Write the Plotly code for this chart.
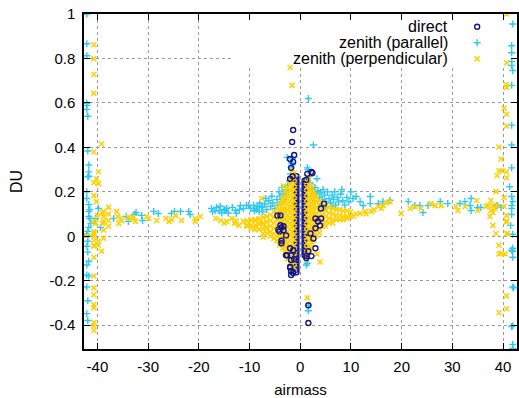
import plotly.graph_objects as go

# ---------------- data (airmass, DU) ----------------
direct_pts = [
    (-1.4, 0.478), (-1.6, 0.424), (-1.2, 0.366), (-2.0, 0.348), (-1.4, 0.335), (-1.8, 0.308),
    (-2.0, 0.259), (-1.5, 0.27), (1.4, 0.281), (2.2, 0.290), (1.2, 0.254), (2.4, 0.285),
    (-3.7, 0.04), (-3.3, 0.027), (-4.1, 0.022), (-3.7, -0.02), (-2.0, -0.054), (-1.4, -0.063),
    (-2.8, -0.085), (-1.8, -0.085), (-1.2, -0.103), (-2.0, -0.14), (-1.8, -0.156), (-1.8, -0.174),
    (-4.5, 0.094), (-3.9, 0.05), (-3.7, -0.031), (-2.6, -0.085), (-1.8, -0.107), (-2.0, -0.138),
    (-1.4, -0.165), (-3.9, 0.094), (-3.3, 0.045), (-4.3, 0.03), (-2.8, 0.004),
    (1.2, -0.098), (2.2, -0.089), (1.6, -0.31), (1.6, -0.39), (4.1, 0.125), (4.7, 0.147),
    (3.0, 0.08), (3.5, 0.067), (2.6, -0.01), (3.0, -0.054), (1.6, -0.067), (1.2, -0.089),
    (4.1, 0.08), (3.9, 0.049), (3.0, 0.036), (2.0, 0.013),
]
# the two dense dark columns at the inner edges of the fans
direct_left_col_x = -0.75
direct_left_col_y = [0.27, 0.256, 0.243, 0.229, 0.214, 0.2, 0.187, 0.172, 0.158, 0.145, 0.13, 0.116,
                     0.103, 0.088, 0.074, 0.06, 0.046, 0.032, 0.018, 0.004, -0.01, -0.024, -0.038,
                     -0.052, -0.066, -0.08, -0.094, -0.108, -0.122, -0.136, -0.15, -0.162]
direct_right_col_x = 0.85
direct_right_col_y = [0.25, 0.236, 0.222, 0.208, 0.194, 0.18, 0.166, 0.152, 0.138, 0.124, 0.11,
                      0.096, 0.082, 0.068, 0.054, 0.04, 0.026, 0.012, -0.002, -0.016, -0.03,
                      -0.044, -0.058, -0.072, -0.085]

parallel_pts = [
    # left edge
    (-42.1, 1.0), (-42.1, 0.866), (-42.1, 0.812), (-42.1, 0.598), (-42.1, 0.589), (-42.1, 0.571),
    (-41.9, 0.54), (-41.9, 0.384), (-41.7, 0.321), (-41.7, 0.29), (-41.9, 0.268), (-42.1, 0.2),
    (-42.1, 0.17), (-41.7, 0.143), (-41.5, 0.12), (-41.7, 0.089), (-41.5, 0.08), (-41.3, 0.058),
    (-41.7, 0.04), (-42.1, 0.009), (-41.9, 0.0), (-41.9, -0.022), (-42.1, -0.045), (-41.9, -0.071),
    (-41.7, -0.112), (-42.1, -0.129), (-42.1, -0.174), (-41.7, -0.179), (-42.1, -0.228),
    (-41.9, -0.29), (-42.1, -0.348), (-41.9, -0.379), (-41.7, 0.27), (-41.9, 0.022), (-41.7, 0.112),
    # left band
    (-40.4, 0.08), (-39.8, 0.125), (-39.4, 0.04), (-36.8, 0.08), (-34.3, 0.089), (-33.9, 0.067),
    (-32.7, 0.098), (-32.4, 0.107), (-31.3, 0.094), (-31.1, 0.071), (-28.9, 0.112), (-28.0, 0.103),
    (-25.4, 0.103), (-24.8, 0.112), (-23.6, 0.112), (-22.0, 0.112), (-21.7, 0.098),
    (-17.5, 0.125), (-17.3, 0.11), (-16.5, 0.13), (-16.0, 0.115), (-15.5, 0.105), (-14.8, 0.116),
    (-14.5, 0.125), (-14.2, 0.105), (-12.8, 0.116), (-12.6, 0.103), (-11.8, 0.138), (-10.2, 0.138),
    (-9.1, 0.125), (-8.1, 0.112), (-7.5, 0.134),
    # left central cloud
    (-9.8, 0.125), (-9.2, 0.14), (-8.6, 0.12), (-8.0, 0.15), (-7.6, 0.13), (-7.0, 0.145),
    (-6.6, 0.12), (-6.2, 0.16), (-5.8, 0.135), (-5.4, 0.15), (-5.0, 0.125), (-4.6, 0.165),
    (-4.4, 0.14), (-4.0, 0.18), (-3.8, 0.155), (-3.4, 0.19), (-3.2, 0.165), (-2.9, 0.21),
    (-2.7, 0.185), (-2.5, 0.23), (-2.3, 0.205), (-2.1, 0.25), (-1.9, 0.28), (-1.8, 0.31),
    (-1.7, 0.33), (-1.5, 0.35), (-2.6, 0.355), (-1.6, 0.32), (-6.8, 0.17), (-5.6, 0.18),
    (-4.2, 0.2), (-3.6, 0.22), (-7.4, 0.11), (-8.4, 0.135), (-9.0, 0.115), (-10.6, 0.14),
    (-11.2, 0.125), (-12.0, 0.12), (-13.4, 0.13), (-15.0, 0.12), (-15.8, 0.135), (-16.8, 0.115),
    (-1.4, -0.067), (-1.4, -0.09), (-1.2, -0.138), (-1.8, -0.161),
    # right central cloud and outliers
    (1.6, 0.62), (2.6, 0.411), (1.4, 0.308), (3.3, 0.259), (1.2, -0.129), (1.6, -0.31),
    (1.6, -0.335), (1.4, -0.121),
    (1.5, 0.3), (1.8, 0.27), (2.0, 0.24), (2.3, 0.215), (2.6, 0.2), (2.9, 0.22), (3.2, 0.19),
    (3.5, 0.205), (3.8, 0.175), (4.1, 0.195), (4.4, 0.165), (4.8, 0.185), (5.1, 0.155),
    (5.4, 0.2), (5.7, 0.17), (6.0, 0.15), (6.3, 0.185), (6.6, 0.165), (7.0, 0.14), (7.3, 0.175),
    (7.6, 0.155), (8.0, 0.19), (8.4, 0.16), (8.8, 0.14), (9.2, 0.175), (9.6, 0.155), (10.0, 0.2),
    (10.4, 0.17), (3.0, 0.16), (4.0, 0.145), (5.0, 0.13), (6.2, 0.135), (2.2, 0.18), (1.6, 0.23),
    (4.5, 0.21), (6.8, 0.2), (8.2, 0.21),
    # right band
    (11.0, 0.179), (11.8, 0.156), (12.4, 0.138), (13.8, 0.179), (13.8, 0.147), (15.4, 0.147),
    (16.3, 0.156), (17.7, 0.161), (21.3, 0.156), (22.6, 0.138), (24.2, 0.107), (23.6, 0.138),
    (25.2, 0.138), (27.6, 0.156), (29.1, 0.147), (31.5, 0.147), (32.5, 0.156), (33.5, 0.138),
    (33.7, 0.170), (33.7, 0.116), (35.0, 0.13), (35.6, 0.13), (38.8, 0.138), (39.6, 0.13),
    # right edge
    (41.9, 0.955), (41.7, 0.857), (41.7, 0.826), (41.7, 0.786), (41.7, 0.768), (41.9, 0.746),
    (41.7, 0.679), (41.7, 0.5), (41.7, 0.411), (41.7, 0.308), (41.3, 0.223), (41.7, 0.179),
    (41.9, 0.156), (41.7, 0.138), (41.7, 0.125), (41.7, 0.098), (41.5, 0.049), (41.9, 0.009),
    (41.7, -0.063), (41.9, -0.094), (41.9, -0.054), (41.9, -0.067), (41.9, -0.228),
    (41.7, -0.406), (41.9, -0.487), (42.1, -0.232), (41.9, -0.402), (41.9, -0.504),
]

perp_pts = [
    # left edge
    (-40.7, 0.862), (-40.7, 0.799), (-40.7, 0.728), (-40.7, 0.643), (-39.2, 0.415),
    (-40.7, 0.379), (-39.8, 0.29), (-40.2, 0.259), (-39.8, 0.237), (-40.7, 0.241),
    (-40.7, 0.183), (-40.2, 0.156), (-40.7, 0.067), (-40.4, 0.058), (-40.0, 0.094),
    (-39.0, 0.103), (-39.0, 0.058), (-38.8, 0.027), (-38.8, -0.009), (-42.1, 0.004),
    (-40.7, 0.022), (-40.7, 0.0), (-40.7, -0.018), (-40.7, -0.04), (-39.8, -0.022),
    (-39.8, -0.04), (-39.2, -0.067), (-40.7, -0.094), (-40.7, -0.179), (-40.7, -0.232),
    (-40.7, -0.263), (-40.7, -0.308), (-40.7, -0.321), (-40.7, -0.388), (-40.7, -0.402),
    (-40.7, -0.424), (-40.7, 0.013), (-40.7, -0.045),
    # left band
    (-38.8, 0.112), (-37.8, 0.13), (-38.8, 0.089), (-37.8, 0.10), (-37.8, 0.071), (-37.8, 0.045),
    (-38.8, 0.067), (-36.2, 0.112), (-36.0, 0.089), (-35.5, 0.08), (-35.8, 0.058), (-35.2, 0.071),
    (-33.9, 0.085), (-33.5, 0.08), (-32.9, 0.085), (-32.5, 0.067), (-30.3, 0.089), (-29.9, 0.08),
    (-28.3, 0.071), (-26.5, 0.08), (-25.9, 0.067), (-25.4, 0.075), (-24.6, 0.094),
    (-23.4, 0.071), (-20.7, 0.08), (-20.7, 0.067), (-19.7, 0.089), (-16.7, 0.08), (-15.7, 0.071),
    (-15.0, 0.06), (-14.5, 0.067), (-13.5, 0.08), (-13.0, 0.058), (-12.1, 0.049), (-12.6, 0.07),
    (-11.2, 0.067), (-10.6, 0.049), (-10.1, 0.06), (-8.8, 0.071), (-8.7, 0.045), (-7.8, 0.06),
    (-6.8, 0.036), (-7.3, -0.004), (-7.6, 0.17), (-3.3, 0.226), (-4.1, -0.04),
    # outliers
    (-2.0, 0.759), (-1.6, 0.679), (3.3, -0.08), (3.9, -0.116), (1.4, -0.277),
    # right band
    (10.5, 0.09), (11.0, 0.1), (11.8, 0.103), (12.8, 0.112), (13.0, 0.1), (14.0, 0.112),
    (14.5, 0.12), (15.4, 0.134), (16.0, 0.125), (16.3, 0.138), (17.0, 0.15), (17.7, 0.156),
    (19.9, 0.103), (21.7, 0.125), (22.6, 0.134), (23.8, 0.125), (25.8, 0.147), (26.6, 0.138),
    (27.8, 0.138), (30.7, 0.134), (31.1, 0.116), (32.5, 0.134),
    # right edge
    (40.7, 1.0), (40.7, 0.781), (40.7, 0.683), (40.7, 0.67), (40.2, 0.576), (40.7, 0.549),
    (40.7, 0.496), (39.2, 0.402), (39.6, 0.348), (39.2, 0.295), (39.8, 0.295), (40.7, 0.29),
    (38.8, 0.272), (40.7, 0.263), (38.6, 0.201), (40.2, 0.174), (40.7, 0.094), (40.7, 0.067),
    (40.7, 0.013), (38.6, 0.013), (39.2, -0.04), (39.6, -0.076), (39.2, -0.08), (40.4, -0.08),
    (40.7, -0.268), (40.7, -0.326), (39.2, -0.344), (38.0, 0.138), (37.0, 0.138), (36.6, 0.134),
    (37.6, 0.116), (37.4, 0.089), (38.0, 0.107), (38.0, 0.049), (34.8, 0.161), (35.0, 0.116),
    (37.6, 0.161), (38.4, 0.125), (40.6, 0.063), (40.9, 0.013), (40.2, 0.134), (38.8, 0.138),
]

# dense central fans of zenith (perpendicular): (airmass column, DU values)
perp_fan_cols = [
    (-1.2, [0.285, 0.262, 0.236, 0.212, 0.186, 0.161, 0.135, 0.111, 0.086, 0.06, 0.036, 0.01,
            -0.014, -0.04, -0.064, -0.09, -0.116, -0.14]),
    (-1.6, [0.298, 0.272, 0.247, 0.221, 0.196, 0.171, 0.144, 0.12, 0.094, 0.07, 0.044, 0.021,
            -0.006, -0.03, -0.056, -0.081, -0.104, -0.13, -0.152]),
    (-2.0, [0.255, 0.231, 0.204, 0.18, 0.156, 0.129, 0.106, 0.08, 0.054, 0.031, 0.004, -0.019,
            -0.046, -0.07, -0.094, -0.118]),
    (-2.5, [0.22, 0.196, 0.17, 0.146, 0.12, 0.096, 0.07, 0.045, 0.021, -0.005, -0.03, -0.055,
            -0.079, -0.1]),
    (-3.0, [0.2, 0.174, 0.151, 0.124, 0.101, 0.075, 0.05, 0.026, 0.0, -0.025, -0.05, -0.074]),
    (-3.5, [0.17, 0.146, 0.12, 0.095, 0.071, 0.045, 0.02, -0.005, -0.03, -0.054]),
    (-4.0, [0.145, 0.12, 0.096, 0.07, 0.046, 0.02, -0.006, -0.03]),
    (-4.6, [0.125, 0.1, 0.076, 0.05, 0.025, 0.0, -0.02]),
    (-5.2, [0.11, 0.086, 0.06, 0.036, 0.01, -0.01]),
    (-5.9, [0.096, 0.07, 0.045, 0.02, 0.0]),
    (-6.6, [0.09, 0.065, 0.04, 0.015]),
    (-7.3, [0.085, 0.06, 0.035, 0.012]),
    (-8.1, [0.08, 0.055, 0.03]),
    (-8.9, [0.075, 0.05, 0.03]),
    (-9.7, [0.075, 0.05, 0.035]),
    (-10.5, [0.07, 0.045]),
    (1.3, [0.27, 0.245, 0.221, 0.195, 0.17, 0.146, 0.12, 0.096, 0.07, 0.045, 0.021, -0.005,
           -0.03, -0.055, -0.08, -0.104]),
    (1.7, [0.255, 0.23, 0.206, 0.18, 0.155, 0.131, 0.105, 0.08, 0.056, 0.03, 0.005, -0.02,
           -0.045, -0.07]),
    (2.2, [0.225, 0.2, 0.176, 0.15, 0.125, 0.1, 0.076, 0.05, 0.025, 0.0, -0.025, -0.05]),
    (2.7, [0.2, 0.175, 0.15, 0.126, 0.1, 0.075, 0.05, 0.025, 0.0, -0.02]),
    (3.2, [0.18, 0.155, 0.13, 0.105, 0.08, 0.056, 0.03, 0.005]),
    (3.8, [0.16, 0.135, 0.11, 0.085, 0.06, 0.035, 0.015]),
    (4.4, [0.145, 0.12, 0.095, 0.07, 0.045]),
    (5.0, [0.14, 0.115, 0.09, 0.065, 0.045]),
    (5.7, [0.13, 0.105, 0.08, 0.06]),
    (6.4, [0.125, 0.1, 0.075, 0.06]),
    (7.1, [0.12, 0.095, 0.075]),
    (7.8, [0.12, 0.095, 0.075]),
    (8.5, [0.115, 0.09, 0.075]),
    (9.2, [0.115, 0.09, 0.08]),
    (9.9, [0.11, 0.09]),
]

x_tick_vals = [-40, -30, -20, -10, 0, 10, 20, 30, 40]
x_tick_text = ["-40", "-30", "-20", "-10", "0", "10", "20", "30", "40"]
y_tick_vals = [-0.4, -0.2, 0, 0.2, 0.4, 0.6, 0.8, 1]
y_tick_text = ["-0.4", "-0.2", "0", "0.2", "0.4", "0.6", "0.8", "1"]
series_names = ["direct", "zenith (parallel)", "zenith (perpendicular)"]

# ---------------- build ----------------
C_DIRECT = "#14148a"
C_PAR = "#2ec8f2"
C_PERP = "#ffd000"
FONT = "Liberation Sans"

dx = [p[0] for p in direct_pts]
dy = [p[1] for p in direct_pts]
colx = [direct_left_col_x] * len(direct_left_col_y) + [direct_right_col_x] * len(direct_right_col_y)
coly = direct_left_col_y + direct_right_col_y
px_ = [p[0] for p in parallel_pts]
py_ = [p[1] for p in parallel_pts]
qx = [p[0] for p in perp_pts]
qy = [p[1] for p in perp_pts]
for cx, ys in perp_fan_cols:
    qx += [cx] * len(ys)
    qy += ys

m_direct = dict(symbol="circle-open", size=5, color=C_DIRECT, line=dict(color=C_DIRECT, width=1.4))
m_par = dict(symbol="cross-thin", size=5, color=C_PAR, line=dict(color=C_PAR, width=1.4))
m_perp = dict(symbol="x-thin", size=5, color=C_PERP, line=dict(color=C_PERP, width=1.5))

fig = go.Figure()
fig.add_trace(go.Scatter(x=px_, y=py_, mode="markers", marker=m_par, name=series_names[1]))
fig.add_trace(go.Scatter(x=colx, y=coly, mode="markers", marker=m_direct, name=series_names[0]))
fig.add_trace(go.Scatter(x=qx, y=qy, mode="markers", marker=m_perp, name=series_names[2]))
fig.add_trace(go.Scatter(x=dx, y=dy, mode="markers", marker=m_direct, name=series_names[0]))

# legend keys on an overlay axis spanning the plot area (0..1)
leg_key_x = 0.908
leg_rows_y = [0.962, 0.914, 0.866]
for name, m, yy in zip(series_names, [m_direct, m_par, m_perp], leg_rows_y):
    fig.add_trace(go.Scatter(x=[leg_key_x], y=[yy], mode="markers", marker=m,
                             xaxis="x2", yaxis="y2", hoverinfo="skip"))

annotations = []
for name, yy in zip(series_names, leg_rows_y):
    annotations.append(dict(x=0.845, y=yy, xref="paper", yref="paper", text=name,
                            showarrow=False, xanchor="right", yanchor="middle",
                            font=dict(family=FONT, size=16, color="#000")))

axis_common = dict(showline=True, linecolor="#000", linewidth=1.5, mirror="ticks",
                   ticks="inside", ticklen=6, tickwidth=1.2, tickcolor="#000",
                   showgrid=True, gridcolor="#9a9a9a", griddash="dot", gridwidth=1,
                   zeroline=False, tickfont=dict(family=FONT, size=15, color="#000"))

fig.update_layout(
    width=519, height=398,
    margin=dict(l=84, r=0, t=14, b=46),
    paper_bgcolor="white", plot_bgcolor="white",
    showlegend=False,
    xaxis=dict(range=[-42.65, 42.75], tickvals=x_tick_vals, ticktext=x_tick_text,
               ticklabelstandoff=3,
               title=dict(text="airmass", font=dict(family=FONT, size=15, color="#000"), standoff=13),
               **axis_common),
    yaxis=dict(range=[-0.507, 1.0], tickvals=y_tick_vals, ticktext=y_tick_text,
               ticklabelstandoff=4,
               title=dict(text="DU", font=dict(family=FONT, size=16, color="#000"), standoff=23),
               **axis_common),
    xaxis2=dict(overlaying="x", range=[0, 1], visible=False, anchor="y2"),
    yaxis2=dict(overlaying="y", range=[0, 1], visible=False, anchor="x2"),
    shapes=[dict(type="rect", xref="x", yref="y", x0=-13.3, x1=42.75, y0=0.76, y1=1.0,
                 fillcolor="white", line=dict(width=0), layer="between")],
    annotations=annotations,
)

fig.write_html("out.html")
